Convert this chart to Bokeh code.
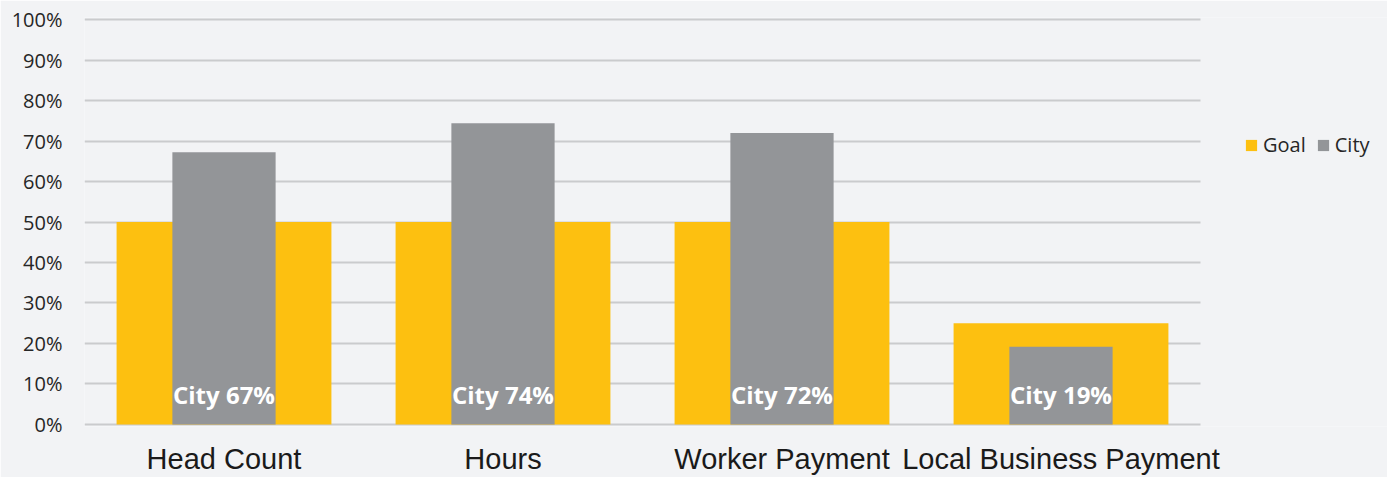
from bokeh.plotting import figure
from bokeh.models import Range1d, FixedTicker, NumeralTickFormatter, Legend, LegendItem, ColumnDataSource
from bokeh.core.properties import value
from bokeh.embed import file_html
from bokeh.resources import INLINE

categories = ["Head Count", "Hours", "Worker Payment", "Local Business Payment"]
goal = [0.50, 0.50, 0.50, 0.25]
city = [0.672, 0.744, 0.72, 0.192]
city_labels = ["City 67%", "City 74%", "City 72%", "City 19%"]
series_names = ["Goal", "City"]
y_ticks = [0.0, 0.1, 0.2, 0.3, 0.4, 0.5, 0.6, 0.7, 0.8, 0.9, 1.0]

BG = "#F2F3F5"
GOAL_C = "#FDC010"
CITY_C = "#939598"

n = len(categories)
xpos = [i + 0.5 for i in range(n)]
src = ColumnDataSource(dict(x=xpos, goal=goal, city=city, lab=city_labels,
                            ly=[0.074] * n))

W, H = 1387, 477
left, right_pad, top, bottom = 84, 187, 17, 49
frame_w = W - left
plot_w = frame_w - right_pad
x_end = n * frame_w / plot_w
ypad = 0.005

p = figure(width=W, height=H, x_range=Range1d(0, x_end),
           y_range=Range1d(-ypad, 1 + ypad), output_backend="svg", toolbar_location=None,
           min_border_left=left, min_border_right=0, min_border_top=top, min_border_bottom=bottom)

p.background_fill_color = BG
p.border_fill_color = BG
p.outline_line_color = None

r_goal = p.vbar(x="x", top="goal", width=0.77, source=src, fill_color=GOAL_C, line_color=None)
r_city = p.vbar(x="x", top="city", width=0.37, source=src, fill_color=CITY_C, line_color=None)
p.text(x="x", y="ly", text="lab", source=src, text_color="white", text_font=value("Open Sans"),
       text_font_style="bold", text_font_size="24px", text_align="center", text_baseline="middle")

p.xgrid.grid_line_color = None
p.ygrid.grid_line_color = "#CACBCD"
p.ygrid.grid_line_width = 2
p.ygrid.level = "underlay"
p.ygrid.cross_bounds = (0, n)

p.yaxis.ticker = FixedTicker(ticks=y_ticks)
p.yaxis.formatter = NumeralTickFormatter(format="0%")
p.yaxis.axis_line_color = None
p.yaxis.major_tick_line_color = None
p.yaxis.minor_tick_line_color = None
p.yaxis.major_tick_out = 0
p.yaxis.major_label_standoff = 22
p.yaxis.major_label_text_font = "Open Sans"
p.yaxis.major_label_text_font_size = "20px"
p.yaxis.major_label_text_color = "#262626"

p.xaxis.ticker = FixedTicker(ticks=xpos)
p.xaxis.major_label_overrides = {x: c for x, c in zip(xpos, categories)}
p.xaxis.axis_line_color = None
p.xaxis.major_tick_line_color = None
p.xaxis.minor_tick_line_color = None
p.xaxis.major_tick_out = 0
p.xaxis.major_label_standoff = 16
p.xaxis.major_label_text_font = "Liberation Sans"
p.xaxis.major_label_text_font_size = "29px"
p.xaxis.major_label_text_color = "#1a1a1a"

legend = Legend(items=[LegendItem(label=series_names[0], renderers=[r_goal]),
                       LegendItem(label=series_names[1], renderers=[r_city])],
                location=(1160, 268), orientation="horizontal",
                padding=0, margin=0, spacing=10, label_standoff=5,
                glyph_width=14, glyph_height=14,
                border_line_color=None, background_fill_alpha=0,
                label_text_font="Open Sans", label_text_font_size="20px",
                label_text_color="#262626")
p.add_layout(legend, "center")

open("out.html", "w").write(file_html(p, INLINE))
